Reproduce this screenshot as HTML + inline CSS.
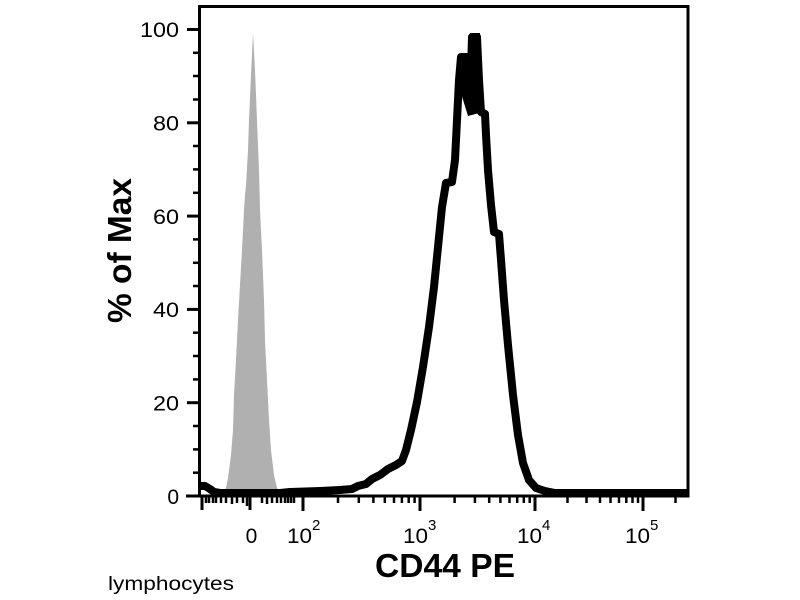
<!DOCTYPE html>
<html>
<head>
<meta charset="utf-8">
<style>
html,body{margin:0;padding:0;background:#fff;}
svg{display:block;}
text{font-family:"Liberation Sans",Arial,sans-serif;fill:#000;}
</style>
</head>
<body>
<svg width="800" height="600" viewBox="0 0 800 600" xmlns="http://www.w3.org/2000/svg">
<rect x="0" y="0" width="800" height="600" fill="#fff"/>
<path d="M222,496 L226,488 L228,478 L231,455 L233,430 L234,395 L236,360 L238,320 L240,285 L242,250 L244,210 L245,195 L246,185 L248,150 L249,120 L251,75 L253,33 L255,70 L257,120 L259,170 L260,210 L262,250 L264,300 L265,340 L267,380 L269,420 L271,450 L274,475 L277,488 L283,496 Z" fill="#b0b0b0"/>
<path d="M199.5,496 L199.5,6.5 L688,6.5 L688,496" fill="none" stroke="#000" stroke-width="3"/>
<line x1="186" y1="496" x2="689.5" y2="496" stroke="#000" stroke-width="3"/>
<path d="M201,486 L205,486 L210,489 L214,492 L220,493 L280,493 L290,492 L320,491 L340,490 L352,489 L358,486 L366,484 L372,479 L380,475 L388,469 L396,465 L402,461 L406,450 L411,430 L417,402 L423,367 L429,327 L434,287 L438,247 L442,207 L446,183 L452,182 L455,160 L457,120 L459,80 L461,57 L466,57 L467,95 L469,105 L471,70 L472,37 L477,37 L479,80 L481,112 L485,114 L486,135 L488,170 L491,205 L494,232 L499,234 L501,260 L504,300 L508,345 L513,395 L518,435 L523,463 L529,480 L536,488 L545,491 L555,493 L600,493 L688,493" fill="none" stroke="#000" stroke-width="8" stroke-linejoin="round"/>
<path d="M458,60 L462,53 L468,53 L470,33 L480,33 L483,112 L468,116 L460,90 Z" fill="#000"/>
<g stroke="#000" stroke-width="3">
<line x1="187" y1="496" x2="199" y2="496"/>
<line x1="187" y1="402.7" x2="199" y2="402.7"/>
<line x1="187" y1="309.4" x2="199" y2="309.4"/>
<line x1="187" y1="216.1" x2="199" y2="216.1"/>
<line x1="187" y1="122.8" x2="199" y2="122.8"/>
<line x1="187" y1="29.5" x2="199" y2="29.5"/>
</g>
<g stroke="#000" stroke-width="2.5">
<line x1="193" y1="472.7" x2="199" y2="472.7"/>
<line x1="193" y1="449.4" x2="199" y2="449.4"/>
<line x1="193" y1="426" x2="199" y2="426"/>
<line x1="193" y1="379.4" x2="199" y2="379.4"/>
<line x1="193" y1="356" x2="199" y2="356"/>
<line x1="193" y1="332.7" x2="199" y2="332.7"/>
<line x1="193" y1="286" x2="199" y2="286"/>
<line x1="193" y1="262.8" x2="199" y2="262.8"/>
<line x1="193" y1="239.4" x2="199" y2="239.4"/>
<line x1="193" y1="192.8" x2="199" y2="192.8"/>
<line x1="193" y1="169.4" x2="199" y2="169.4"/>
<line x1="193" y1="146" x2="199" y2="146"/>
<line x1="193" y1="99.5" x2="199" y2="99.5"/>
<line x1="193" y1="76" x2="199" y2="76"/>
<line x1="193" y1="52.8" x2="199" y2="52.8"/>
</g>
<g font-size="21" text-anchor="end">
<text x="179" y="504">0</text>
<text x="179" y="410.5" textLength="26" lengthAdjust="spacingAndGlyphs">20</text>
<text x="179" y="317" textLength="26" lengthAdjust="spacingAndGlyphs">40</text>
<text x="179" y="224" textLength="26" lengthAdjust="spacingAndGlyphs">60</text>
<text x="179" y="130.5" textLength="26" lengthAdjust="spacingAndGlyphs">80</text>
<text x="179" y="37" textLength="39" lengthAdjust="spacingAndGlyphs">100</text>
</g>
<g stroke="#000" stroke-width="3">
<line x1="202" y1="496" x2="202" y2="510"/>
<line x1="250" y1="496" x2="250" y2="510"/>
<line x1="303" y1="496" x2="303" y2="511"/>
<line x1="420" y1="496" x2="420" y2="511"/>
<line x1="535" y1="496" x2="535" y2="511"/>
<line x1="643" y1="496" x2="643" y2="511"/>
</g>
<g stroke="#000" stroke-width="2.5">
<line x1="206" y1="496" x2="206" y2="503"/>
<line x1="209" y1="496" x2="209" y2="503"/>
<line x1="213" y1="496" x2="213" y2="503"/>
<line x1="216" y1="496" x2="216" y2="503"/>
<line x1="221" y1="496" x2="221" y2="503"/>
<line x1="226" y1="496" x2="226" y2="503"/>
<line x1="232" y1="496" x2="232" y2="504"/>
<line x1="237" y1="496" x2="237" y2="503"/>
<line x1="243" y1="496" x2="243" y2="503"/>
<line x1="247" y1="496" x2="247" y2="506"/>
<line x1="262" y1="496" x2="262" y2="503"/>
<line x1="267" y1="496" x2="267" y2="504"/>
<line x1="272" y1="496" x2="272" y2="503"/>
<line x1="277" y1="496" x2="277" y2="503"/>
<line x1="281" y1="496" x2="281" y2="503"/>
<line x1="285" y1="496" x2="285" y2="503"/>
<line x1="288" y1="496" x2="288" y2="503"/>
<line x1="291" y1="496" x2="291" y2="503"/>
<line x1="294" y1="496" x2="294" y2="503"/>
<line x1="338" y1="496" x2="338" y2="503"/>
<line x1="358.8" y1="496" x2="358.8" y2="503"/>
<line x1="373.4" y1="496" x2="373.4" y2="503"/>
<line x1="384.8" y1="496" x2="384.8" y2="503"/>
<line x1="394" y1="496" x2="394" y2="503"/>
<line x1="401.9" y1="496" x2="401.9" y2="503"/>
<line x1="408.7" y1="496" x2="408.7" y2="503"/>
<line x1="414.6" y1="496" x2="414.6" y2="503"/>
<line x1="454.6" y1="496" x2="454.6" y2="503"/>
<line x1="474.9" y1="496" x2="474.9" y2="503"/>
<line x1="489.2" y1="496" x2="489.2" y2="503"/>
<line x1="500.4" y1="496" x2="500.4" y2="503"/>
<line x1="509.5" y1="496" x2="509.5" y2="503"/>
<line x1="517.2" y1="496" x2="517.2" y2="503"/>
<line x1="523.8" y1="496" x2="523.8" y2="503"/>
<line x1="529.7" y1="496" x2="529.7" y2="503"/>
<line x1="567.5" y1="496" x2="567.5" y2="503"/>
<line x1="586.5" y1="496" x2="586.5" y2="503"/>
<line x1="600" y1="496" x2="600" y2="503"/>
<line x1="610.5" y1="496" x2="610.5" y2="503"/>
<line x1="619" y1="496" x2="619" y2="503"/>
<line x1="626.3" y1="496" x2="626.3" y2="503"/>
<line x1="632.5" y1="496" x2="632.5" y2="503"/>
<line x1="638" y1="496" x2="638" y2="503"/>
<line x1="675.5" y1="496" x2="675.5" y2="503"/>
</g>
<g font-size="21">
<text x="251.5" y="543" text-anchor="middle">0</text>
<text x="287" y="543" textLength="25" lengthAdjust="spacingAndGlyphs">10</text>
<text x="312" y="530" font-size="15">2</text>
<text x="403" y="543" textLength="25" lengthAdjust="spacingAndGlyphs">10</text>
<text x="428" y="530" font-size="15">3</text>
<text x="517" y="543" textLength="25" lengthAdjust="spacingAndGlyphs">10</text>
<text x="542" y="530" font-size="15">4</text>
<text x="625" y="543" textLength="25" lengthAdjust="spacingAndGlyphs">10</text>
<text x="650" y="530" font-size="15">5</text>
</g>
<text x="375" y="577" font-size="33" font-weight="bold" textLength="140" lengthAdjust="spacingAndGlyphs">CD44 PE</text>
<text transform="translate(131,250.5) rotate(-90)" x="0" y="0" text-anchor="middle" font-size="33" font-weight="bold" textLength="145" lengthAdjust="spacingAndGlyphs">% of Max</text>
<text x="108" y="590" font-size="19" textLength="126" lengthAdjust="spacingAndGlyphs">lymphocytes</text>
</svg>
</body>
</html>
